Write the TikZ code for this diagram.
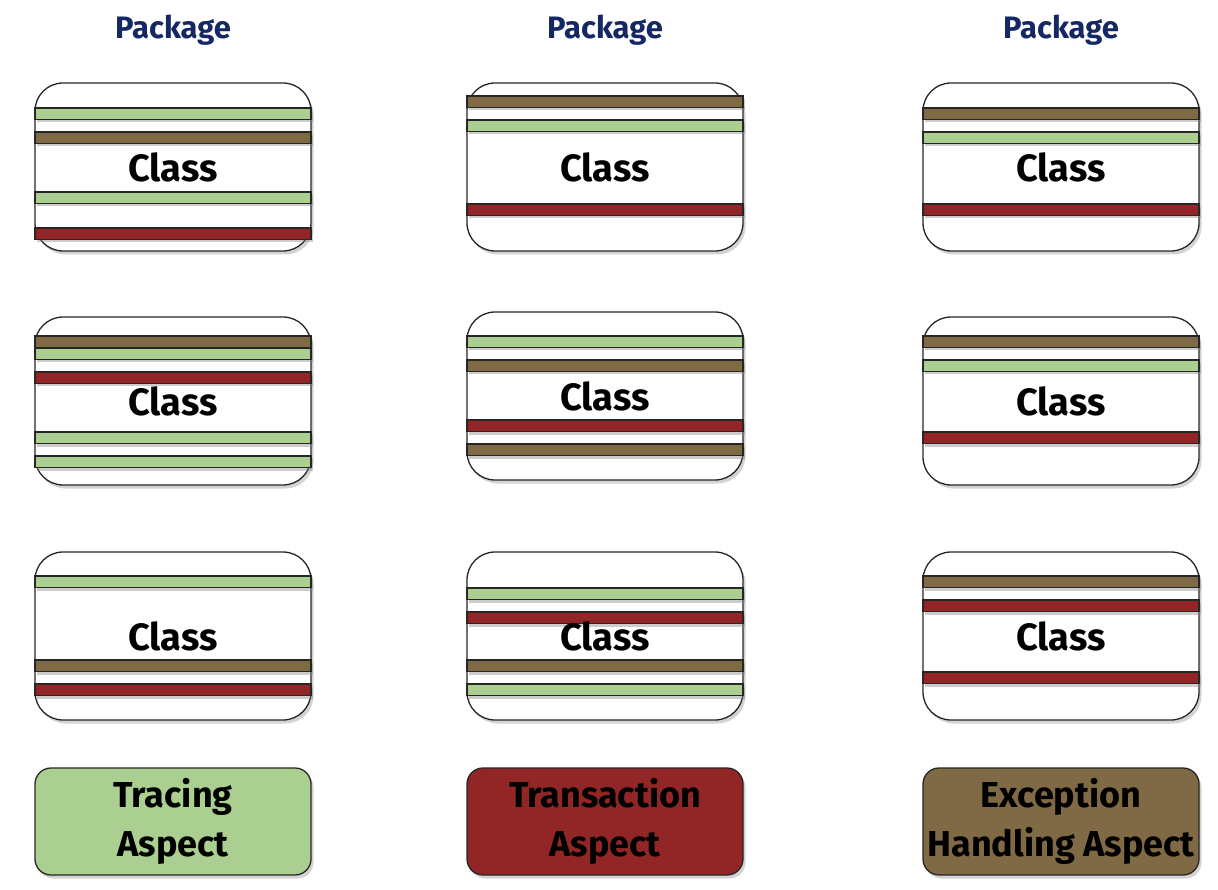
\documentclass[tikz,border=0pt]{standalone}
\usepackage{fontspec}
\setmainfont{Fira Sans}
\usetikzlibrary{shadows}
\definecolor{tgreen}{RGB}{171,207,145}
\definecolor{tbrown}{RGB}{128,106,69}
\definecolor{tred}{RGB}{146,38,38}
\definecolor{pkgblue}{RGB}{22,40,100}
\newcommand\mystripe[3]{\draw[stripebox,fill=#3] (#1.west |- 0,#2) rectangle (#1.east |- 0,#2+11.5);}
\begin{document}
\begin{tikzpicture}[x=1pt,y=-1pt,
  classbox/.style={draw=black!85, line width=1.3pt, fill=white, rounded corners=28pt, outer sep=0pt,
    minimum width=276pt, minimum height=168pt, anchor=north west, inner sep=0pt,
    drop shadow={opacity=0.35, shadow xshift=2.5pt, shadow yshift=-3.5pt}},
  stripebox/.style={draw=black!85, line width=1.7pt,
    drop shadow={opacity=0.4, shadow xshift=2pt, shadow yshift=-3pt}},
  classtxt/.style={font=\fontsize{38}{42}\selectfont\bfseries, text=black},
  pkgtxt/.style={font=\fontsize{31}{34}\selectfont\bfseries, text=pkgblue},
  aspectbox/.style={draw=black!85, line width=1.3pt, rounded corners=16pt, outer sep=0pt,
    minimum width=276pt, minimum height=107pt, anchor=north west, inner sep=0pt, align=center,
    font=\fontsize{36}{49}\selectfont\bfseries, text=black,
    drop shadow={opacity=0.35, shadow xshift=2.5pt, shadow yshift=-3.5pt}}
]
\useasboundingbox (0,0) rectangle (1218,890);

% package labels
\node[pkgtxt] (p1) at (173,30) {Package};
\node[pkgtxt] (p2) at (605,30) {Package};
\node[pkgtxt] (p3) at (1061,30) {Package};

% row 1
\node[classbox] (b11) at (35,83) {};
\node[classbox] (b12) at (467,83) {};
\node[classbox] (b13) at (923,83) {};
% row 2
\node[classbox] (b21) at (35,317) {};
\node[classbox] (b22) at (467,312) {};
\node[classbox] (b23) at (923,317) {};
% row 3
\node[classbox] (b31) at (35,552) {};
\node[classbox] (b32) at (467,552) {};
\node[classbox] (b33) at (923,552) {};

% stripes row 1
\mystripe{b11}{108}{tgreen}
\mystripe{b11}{132}{tbrown}
\mystripe{b11}{192}{tgreen}
\mystripe{b11}{228}{tred}
\mystripe{b12}{96}{tbrown}
\mystripe{b12}{120}{tgreen}
\mystripe{b12}{204}{tred}
\mystripe{b13}{108}{tbrown}
\mystripe{b13}{132}{tgreen}
\mystripe{b13}{204}{tred}
% stripes row 2
\mystripe{b21}{336}{tbrown}
\mystripe{b21}{348}{tgreen}
\mystripe{b21}{372}{tred}
\mystripe{b21}{432}{tgreen}
\mystripe{b21}{456}{tgreen}
\mystripe{b22}{336}{tgreen}
\mystripe{b22}{360}{tbrown}
\mystripe{b22}{420}{tred}
\mystripe{b22}{444}{tbrown}
\mystripe{b23}{336}{tbrown}
\mystripe{b23}{360}{tgreen}
\mystripe{b23}{432}{tred}
% stripes row 3
\mystripe{b31}{576}{tgreen}
\mystripe{b31}{660}{tbrown}
\mystripe{b31}{684}{tred}
\mystripe{b32}{588}{tgreen}
\mystripe{b32}{612}{tred}
\mystripe{b32}{660}{tbrown}
\mystripe{b32}{684}{tgreen}
\mystripe{b33}{576}{tbrown}
\mystripe{b33}{600}{tred}
\mystripe{b33}{672}{tred}

% class labels
\foreach \b in {b11,b12,b13,b21,b22,b23,b31,b32,b33}
  \node[classtxt] (t\b) at (\b.center) {Class};

% aspects
\node[aspectbox, fill=tgreen] (a1) at (35,768) {Tracing\\Aspect};
\node[aspectbox, fill=tred] (a2) at (467,768) {Transaction\\Aspect};
\node[aspectbox, fill=tbrown] (a3) at (923,768) {Exception\\Handling Aspect};
\end{tikzpicture}
\end{document}
